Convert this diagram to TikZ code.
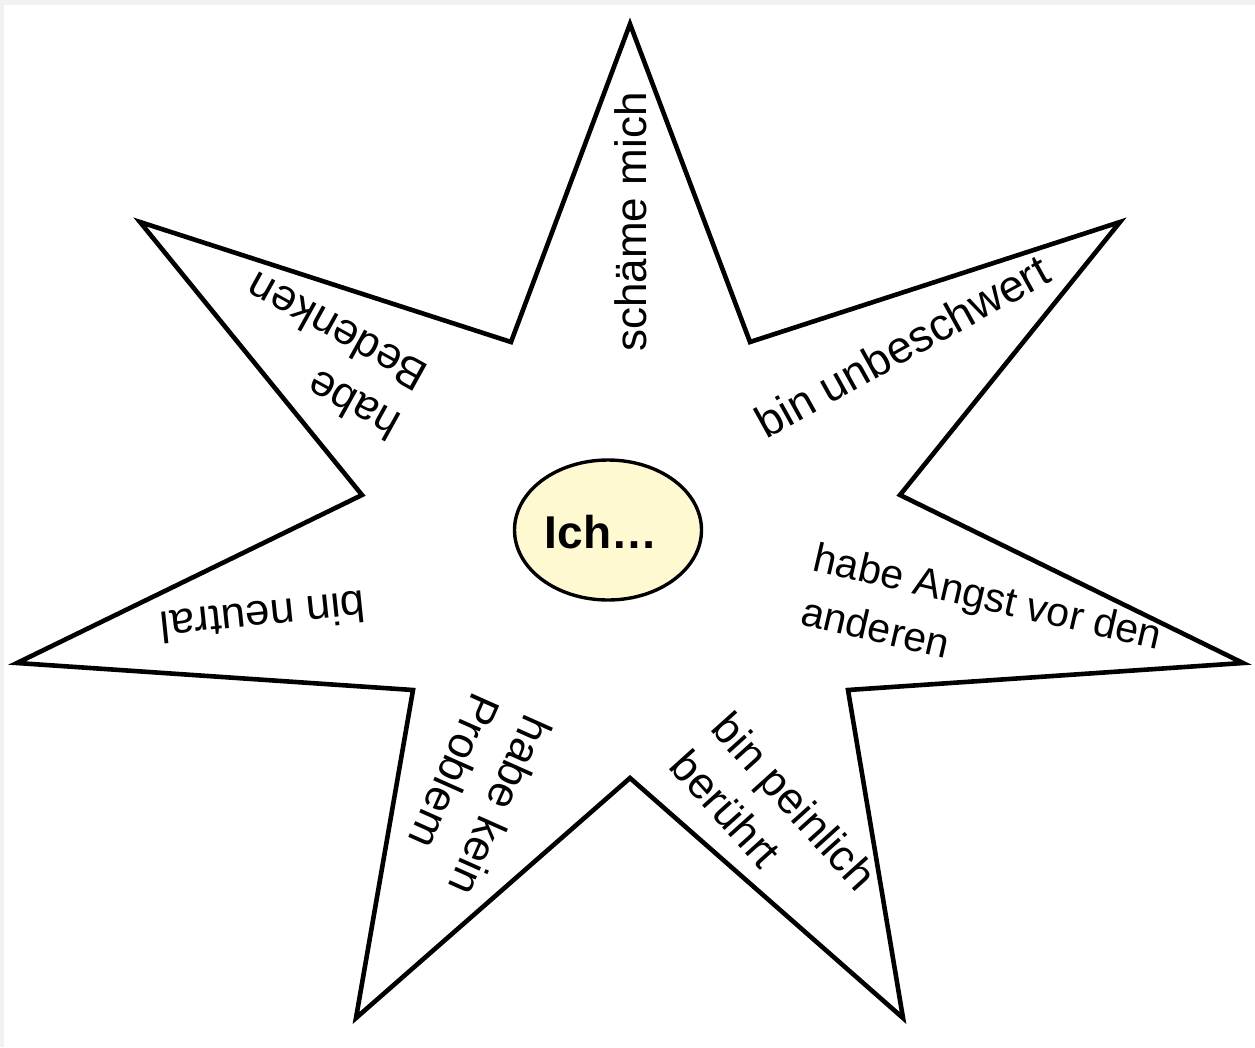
\documentclass[tikz,border=0pt]{standalone}
\usepackage{fontspec}
\setmainfont{Liberation Sans}
\usetikzlibrary{shapes.geometric}
\definecolor{framegray}{HTML}{F1F1F1}
\definecolor{cream}{HTML}{FFF9D2}
\tikzset{
  lbl/.style={font=\fontsize{44}{56}\selectfont, inner sep=0pt, align=left, text=black},
  startline/.style={line width=4.6pt, draw=black, line join=miter},
  egg/.style={ellipse, draw=black, line width=3.4pt, fill=cream, minimum width=187pt, minimum height=140pt, inner sep=0pt}
}
\begin{document}
\begin{tikzpicture}[x=1pt,y=-1pt]
\useasboundingbox (0,0) rectangle (1255,1047);
\fill[framegray] (0,0) rectangle (1255,1047);
\fill[white] (4,5) rectangle (1255,1047);
% star
\draw[startline] (630,24) -- (750,342) -- (1120,222) -- (900,495) -- (1243,663)
  -- (848,690) -- (903,1018) -- (630,778) -- (356,1018) -- (413,690)
  -- (17,663) -- (362,495) -- (140,222) -- (511,342) -- cycle;
% centre
\node[egg] (ich) at (608,530) {};
\node[font=\fontsize{46}{52}\selectfont\bfseries, inner sep=0pt] (ichtext) at (601,532) {Ich…};
% labels
\node[lbl, rotate=90] (schaeme) at (631,222) {schäme mich};
\node[lbl, rotate=29, font=\fontsize{45}{56}\selectfont] (unbeschwert) at (902,346) {bin unbeschwert};
\node[lbl, rotate=-13, font=\fontsize{41}{56}\selectfont] (angst) at (982,623) {habe Angst vor den\\anderen};
\node[lbl, rotate=-48] (peinlich) at (774,820) {bin peinlich\\berührt};
\node[lbl, rotate=-114] (problem) at (475,795) {habe kein\\Problem};
\node[lbl, rotate=186] (neutral) at (263,617) {bin neutral};
\node[lbl, rotate=151] (bedenken) at (323,357) {habe\\Bedenken};
\end{tikzpicture}
\end{document}
